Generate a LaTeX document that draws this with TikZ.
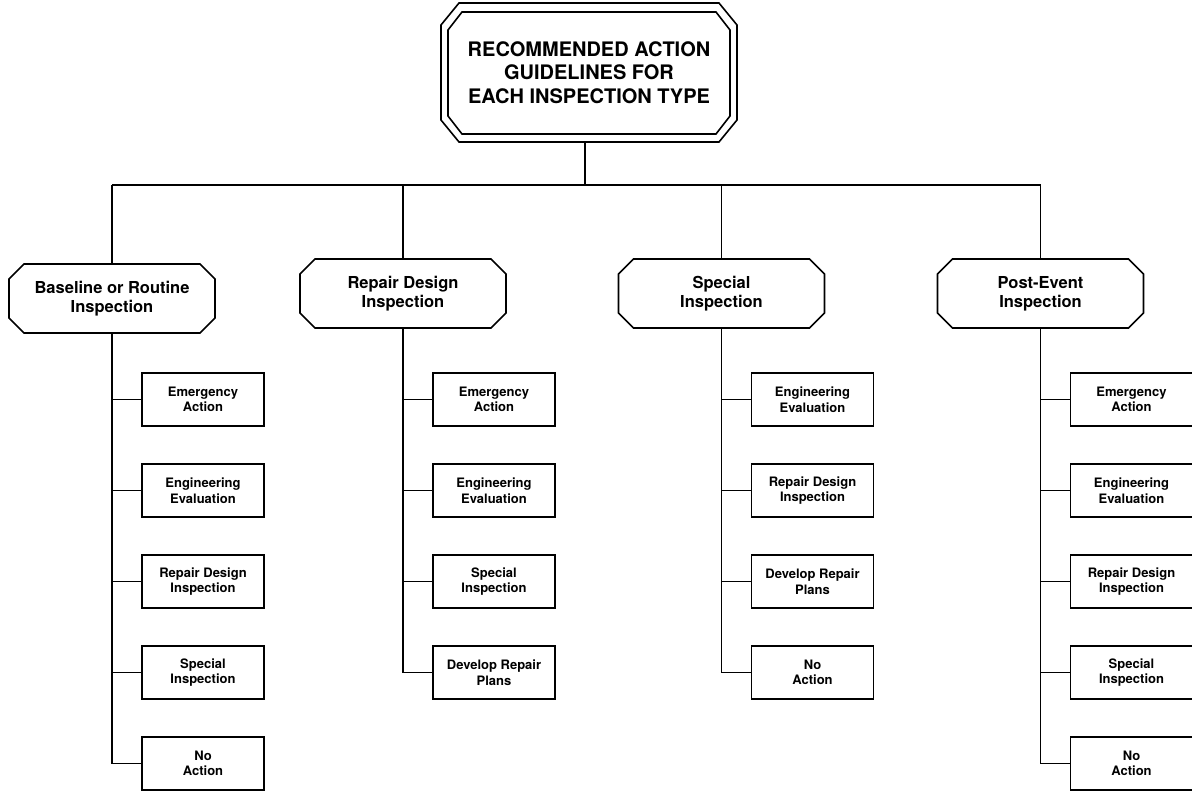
\documentclass[tikz,border=0pt]{standalone}
\usepackage{fontspec}
\setmainfont{TeX Gyre Heros}
\newcommand\octbox[3]{\draw[ln] ([xshift=#2]#1.north west) -- ([xshift=-#2]#1.north east) -- ([yshift=-#3]#1.north east) -- ([yshift=#3]#1.south east) -- ([xshift=-#2]#1.south east) -- ([xshift=#2]#1.south west) -- ([yshift=#3]#1.south west) -- ([yshift=-#3]#1.north west) -- cycle;}
\begin{document}
\begin{tikzpicture}[x=1pt,y=-1pt,
  ln/.style={line width=1.6pt, line join=miter},
  kid/.style={draw, line width=1.6pt, rectangle, minimum width=122pt, minimum height=53pt, inner sep=0pt, outer sep=0pt, anchor=north west, align=center, font=\bfseries\fontsize{13}{15.5}\selectfont},
  cat/.style={minimum width=206pt, minimum height=69pt, inner sep=0pt, outer sep=0pt, align=center, font=\bfseries\fontsize{16.5}{19}\selectfont},
  ttl/.style={inner sep=0pt, outer sep=0pt, align=center, font=\bfseries\fontsize{20}{23.5}\selectfont}
]
\clip (0,0) rectangle (1192,793);
\fill[white] (0,0) rectangle (1192,793);

% title
\node[ttl, minimum width=296pt, minimum height=139pt] (top) at (589,72.5) {RECOMMENDED ACTION\\GUIDELINES FOR\\EACH INSPECTION TYPE};
\node[minimum width=282pt, minimum height=122pt, inner sep=0pt, outer sep=0pt] (topin) at (589,73) {};
\octbox{top}{18pt}{22pt}
\octbox{topin}{14pt}{18pt}

% categories
\node[cat] (c1) at (112,298.5) {Baseline or Routine\\Inspection};
\node[cat] (c2) at (403,293.5) {Repair Design\\Inspection};
\node[cat] (c3) at (721.5,293.5) {Special\\Inspection};
\node[cat] (c4) at (1040.5,293.5) {Post-Event\\Inspection};
\foreach \c in {c1,c2,c3,c4}{\octbox{\c}{15pt}{15pt}}

% bus
\coordinate (bus1) at (112,185);
\coordinate (bus4) at (1040.5,185);
\draw[ln] (bus1) -- (bus4);
\draw[ln] ([xshift=-4pt]top.south) -- ([xshift=-4pt]top.south |- bus1);
\foreach \c in {c1,c2,c3,c4}{\draw[ln] (\c.north |- bus1) -- (\c.north);}

% column 1
\node[kid] (a1) at (142,373) {Emergency\\Action};
\node[kid] (a2) at (142,464) {Engineering\\Evaluation};
\node[kid] (a3) at (142,555) {Repair Design\\Inspection};
\node[kid] (a4) at (142,646) {Special\\Inspection};
\node[kid] (a5) at (142,737) {No\\Action};
% column 2
\node[kid] (b1) at (433,373) {Emergency\\Action};
\node[kid] (b2) at (433,464) {Engineering\\Evaluation};
\node[kid] (b3) at (433,555) {Special\\Inspection};
\node[kid] (b4) at (433,646) {Develop Repair\\Plans};
% column 3
\node[kid] (d1) at (751.5,373) {Engineering\\Evaluation};
\node[kid] (d2) at (751.5,464) {Repair Design\\Inspection};
\node[kid] (d3) at (751.5,555) {Develop Repair\\Plans};
\node[kid] (d4) at (751.5,646) {No\\Action};
% column 4
\node[kid] (e1) at (1070.5,373) {Emergency\\Action};
\node[kid] (e2) at (1070.5,464) {Engineering\\Evaluation};
\node[kid] (e3) at (1070.5,555) {Repair Design\\Inspection};
\node[kid] (e4) at (1070.5,646) {Special\\Inspection};
\node[kid] (e5) at (1070.5,737) {No\\Action};

% stems and branches
\draw[ln] (c1.south) -- (c1.south |- a5.west);
\foreach \k in {a1,a2,a3,a4,a5}{\draw[ln] (c1.south |- \k.west) -- (\k.west);}
\draw[ln] (c2.south) -- (c2.south |- b4.west);
\foreach \k in {b1,b2,b3,b4}{\draw[ln] (c2.south |- \k.west) -- (\k.west);}
\draw[ln] (c3.south) -- (c3.south |- d4.west);
\foreach \k in {d1,d2,d3,d4}{\draw[ln] (c3.south |- \k.west) -- (\k.west);}
\draw[ln] (c4.south) -- (c4.south |- e5.west);
\foreach \k in {e1,e2,e3,e4,e5}{\draw[ln] (c4.south |- \k.west) -- (\k.west);}
\end{tikzpicture}
\end{document}
